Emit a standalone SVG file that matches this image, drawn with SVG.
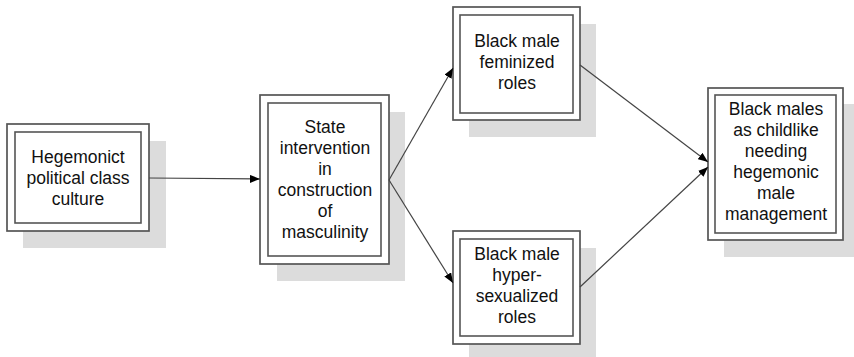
<svg xmlns="http://www.w3.org/2000/svg" width="854" height="357" viewBox="0 0 854 357">
<defs>
<style>
.sh{fill:#dcdcdc;stroke:none}
.o{fill:#fff;stroke:#555;stroke-width:1.7}
.i{fill:#fff;stroke:#555;stroke-width:1.6}
.t{font-family:"Liberation Sans",Arial,sans-serif;font-size:17.5px;fill:#111;text-anchor:middle}
.c{stroke:#444;stroke-width:1.2;fill:none;marker-end:url(#ah)}
</style>
<marker id="ah" viewBox="0 0 10 8" refX="10" refY="4" markerWidth="10" markerHeight="8" markerUnits="userSpaceOnUse" orient="auto">
<path d="M0,0 L10,4 L0,8 Z" fill="#000"/>
</marker>
</defs>
<rect width="854" height="357" fill="#fff"/>
<g id="n1">
<rect class="sh" x="23" y="141" width="143" height="107"/>
<rect class="o" x="7" y="124" width="142" height="107"/>
<rect class="i" x="15" y="132" width="126" height="91"/>
<text class="t" x="78" y="163">Hegemonict</text>
<text class="t" x="78" y="184">political class</text>
<text class="t" x="78" y="205">culture</text>
</g>
<g id="n2">
<rect class="sh" x="277" y="112" width="128" height="169"/>
<rect class="o" x="260" y="95" width="129" height="169"/>
<rect class="i" x="268" y="103" width="113" height="153"/>
<text class="t" x="325" y="133">State</text>
<text class="t" x="325" y="154">intervention</text>
<text class="t" x="325" y="175">in</text>
<text class="t" x="325" y="196">construction</text>
<text class="t" x="325" y="217">of</text>
<text class="t" x="325" y="238">masculinity</text>
</g>
<g id="n3">
<rect class="sh" x="469" y="24" width="127" height="113"/>
<rect class="o" x="453" y="7" width="127" height="113"/>
<rect class="i" x="460" y="15" width="113" height="98"/>
<text class="t" x="517" y="47">Black male</text>
<text class="t" x="517" y="68">feminized</text>
<text class="t" x="517" y="89">roles</text>
</g>
<g id="n4">
<rect class="sh" x="469" y="248" width="127" height="113"/>
<rect class="o" x="453" y="231" width="127" height="113"/>
<rect class="i" x="460" y="239" width="113" height="97"/>
<text class="t" x="517" y="260">Black male</text>
<text class="t" x="517" y="281">hyper-</text>
<text class="t" x="517" y="302">sexualized</text>
<text class="t" x="517" y="323">roles</text>
</g>
<g id="n5">
<rect class="sh" x="724" y="104" width="130" height="153"/>
<rect class="o" x="708" y="88" width="135" height="152"/>
<rect class="i" x="715" y="95" width="121" height="138"/>
<text class="t" x="776" y="115">Black males</text>
<text class="t" x="776" y="136">as childlike</text>
<text class="t" x="776" y="157">needing</text>
<text class="t" x="776" y="178">hegemonic</text>
<text class="t" x="776" y="199">male</text>
<text class="t" x="776" y="220">management</text>
</g>
<g id="connectors">
<line class="c" x1="149" y1="178" x2="260" y2="179"/>
<line class="c" x1="389" y1="180" x2="453" y2="68"/>
<line class="c" x1="389" y1="180" x2="453" y2="283"/>
<line class="c" x1="580" y1="65" x2="708" y2="162"/>
<line class="c" x1="580" y1="287" x2="708" y2="167"/>
</g>
</svg>
